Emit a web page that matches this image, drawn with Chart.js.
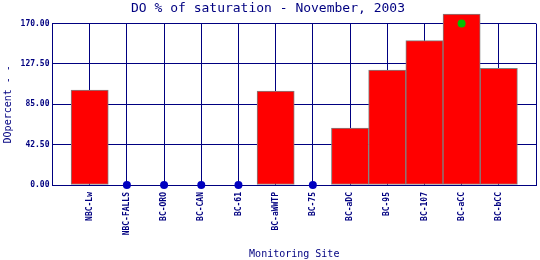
<!DOCTYPE html>
<html>
<head>
<meta charset="utf-8">
<script src="https://cdn.jsdelivr.net/npm/chart.js@4"></script>
<style>
  body { margin: 0; background: #fff; }
</style>
</head>
<body>
<canvas id="doChart" width="540" height="260"></canvas>
<script>
// Monitoring sites, left to right
const sites = ['NBC-Lw', 'NBC-FALLS', 'BC-ORO', 'BC-CAN', 'BC-61', 'BC-aWWTP',
               'BC-75', 'BC-aDC', 'BC-95', 'BC-107', 'BC-aCC', 'BC-bCC'];
// DO % of saturation (null = no sample, drawn as a dot on the axis)
const doValues = [100, null, null, null, null, 99, null, 60, 121, 152, 180, 123];
// green marker point
const markerValues = [null, null, null, null, null, null, null, null, null, null, 170, null];
const yTicks = [0, 42.5, 85, 127.5, 170];

const navy = '#000080';
const mono = 'DejaVu Sans Mono';

document.addEventListener('DOMContentLoaded', function() {
    const bars = [], missing = [], markers = [];
    sites.forEach((s, i) => {
        if (doValues[i] !== null) bars.push({ x: i, y: doValues[i] });
        else missing.push({ x: i, y: 0 });
        if (markerValues[i] !== null) markers.push({ x: i, y: markerValues[i] });
    });

    new Chart(document.getElementById('doChart').getContext('2d'), {
        type: 'bar',
        data: {
            datasets: [{
                type: 'bar',
                data: bars,
                backgroundColor: '#ff0000',
                borderColor: '#808080',
                borderWidth: 1,
                borderSkipped: false,
                barPercentage: 1,
                categoryPercentage: 1,
                clip: false,
                order: 2
            }, {
                type: 'line',
                data: missing,
                showLine: false,
                pointRadius: 4,
                pointBackgroundColor: '#0000c0',
                pointBorderWidth: 0,
                clip: false,
                order: 1
            }, {
                type: 'line',
                data: markers,
                showLine: false,
                pointRadius: 4,
                pointBackgroundColor: '#00c000',
                pointBorderWidth: 0,
                clip: false,
                order: 0
            }]
        },
        options: {
            responsive: false,
            devicePixelRatio: 1,
            animation: false,
            layout: { padding: { left: 0, right: 4, top: 0, bottom: 0 } },
            plugins: {
                legend: { display: false },
                tooltip: { enabled: false },
                title: {
                    display: true,
                    text: 'DO % of saturation - November, 2003',
                    color: navy,
                    font: { family: mono, size: 13, weight: 'normal' },
                    padding: { top: 1, bottom: 7 }
                }
            },
            scales: {
                x: {
                    type: 'linear',
                    offset: false,
                    min: -1,
                    max: sites.length,
                    afterBuildTicks: scale => {
                        scale.ticks = [];
                        for (let v = -1; v <= sites.length; v++) scale.ticks.push({ value: v });
                    },
                    afterFit: scale => {
                        scale.height = 75;
                        scale.paddingLeft = 0;
                        scale.paddingRight = 0;
                    },
                    grid: { color: navy, lineWidth: 1, drawTicks: false, offset: false },
                    border: { color: navy, width: 1 },
                    ticks: {
                        autoSkip: false,
                        minRotation: 90,
                        maxRotation: 90,
                        padding: 7,
                        color: navy,
                        font: { family: mono, size: 8, weight: 'bold' },
                        callback: v => sites[v] || ''
                    },
                    title: {
                        display: true,
                        text: 'Monitoring Site',
                        color: navy,
                        font: { family: mono, size: 10 },
                        padding: { top: 0, bottom: 0 }
                    }
                },
                y: {
                    min: 0,
                    max: 170,
                    afterBuildTicks: scale => { scale.ticks = yTicks.map(v => ({ value: v })); },
                    afterFit: scale => { scale.width = 52.5; },
                    grid: { color: navy, lineWidth: 1, drawTicks: false },
                    border: { color: navy, width: 1 },
                    ticks: {
                        padding: 3,
                        color: navy,
                        font: { family: mono, size: 8, weight: 'bold' },
                        callback: v => v.toFixed(2)
                    },
                    title: {
                        display: true,
                        text: 'DOpercent - -',
                        color: navy,
                        font: { family: mono, size: 10 },
                        padding: { top: 2, bottom: 0 }
                    }
                }
            }
        }
    });
});
</script>
</body>
</html>
